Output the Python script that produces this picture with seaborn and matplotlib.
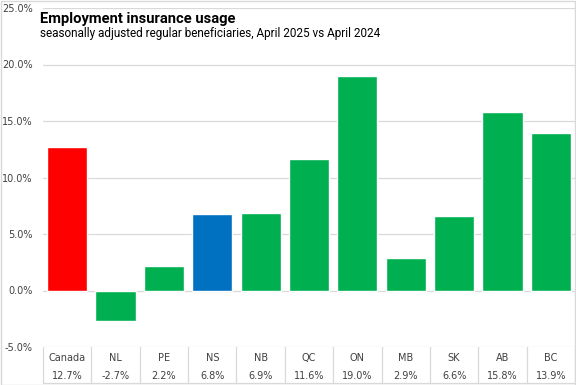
import matplotlib
matplotlib.use("Agg")
import matplotlib.pyplot as plt
import matplotlib.transforms as mtransforms
from matplotlib.ticker import FuncFormatter
import seaborn as sns
import pandas as pd

regions = ["Canada", "NL", "PE", "NS", "NB", "QC", "ON", "MB", "SK", "AB", "BC"]
change = [12.7, -2.7, 2.2, 6.8, 6.9, 11.6, 19.0, 2.9, 6.6, 15.8, 13.9]
bar_colors = ["#FF0000", "#00B050", "#00B050", "#0070C0", "#00B050", "#00B050",
              "#00B050", "#00B050", "#00B050", "#00B050", "#00B050"]

GRID = "#D9D9D9"
TEXT = "#404040"


def draw_chart():
    sns.set_style("white")
    df = pd.DataFrame({"region": regions, "change": change})

    fig = plt.figure(figsize=(5.76, 3.85), dpi=100)
    ax = fig.add_axes([43 / 576, 38 / 385, 532 / 576, 339 / 385])

    sns.barplot(data=df, x="region", y="change", hue="region",
                palette=bar_colors, legend=False, width=0.83,
                saturation=1, ax=ax)

    ax.set_ylim(-5, 25)
    ax.set_xlim(-0.5, len(regions) - 0.5)
    ax.set_yticks(range(-5, 26, 5))
    ax.yaxis.set_major_formatter(FuncFormatter(lambda v, p: f"{v:.1f}%"))
    ax.tick_params(axis="y", length=0, pad=7.5, labelsize=7, labelcolor=TEXT)
    ax.grid(axis="y", color=GRID, linewidth=0.9)
    ax.set_axisbelow(True)
    for s in ax.spines.values():
        s.set_visible(False)
    ax.set_xlabel("")
    ax.set_ylabel("")

    # category / value table under the plot
    ax.set_xticks(range(len(regions)))
    ax.set_xticklabels([f"{r}\n\n{v:.1f}%" for r, v in zip(regions, change)],
                       fontsize=7, color=TEXT, linespacing=0.85)
    ax.tick_params(axis="x", length=0, pad=4.5)
    trans = mtransforms.blended_transform_factory(ax.transData, ax.transAxes)
    bottom = -36 / 339
    for i in range(len(regions) + 1):
        ax.plot([i - 0.5, i - 0.5], [0, bottom], color=GRID, lw=0.9,
                transform=trans, clip_on=False)
    ax.plot([-0.5, len(regions) - 0.5], [bottom, bottom], color=GRID, lw=0.9,
            transform=trans, clip_on=False)

    fig.text(40 / 576, 1 - 19 / 385, "Employment insurance usage",
             fontsize=10.6, fontweight="bold", family="Roboto", va="center",
             color="black")
    fig.text(40 / 576, 1 - 33 / 385,
             "seasonally adjusted regular beneficiaries, April 2025 vs April 2024",
             fontsize=8.5, family="Roboto", va="center", color="black")

    fig.patches.append(plt.Rectangle((0.001, 0.001), 0.998, 0.997,
                                     transform=fig.transFigure, fill=False,
                                     edgecolor=GRID, lw=1))
    fig.savefig("out.png", dpi=100)


def main():
    draw_chart()


if __name__ == "__main__":
    main()
